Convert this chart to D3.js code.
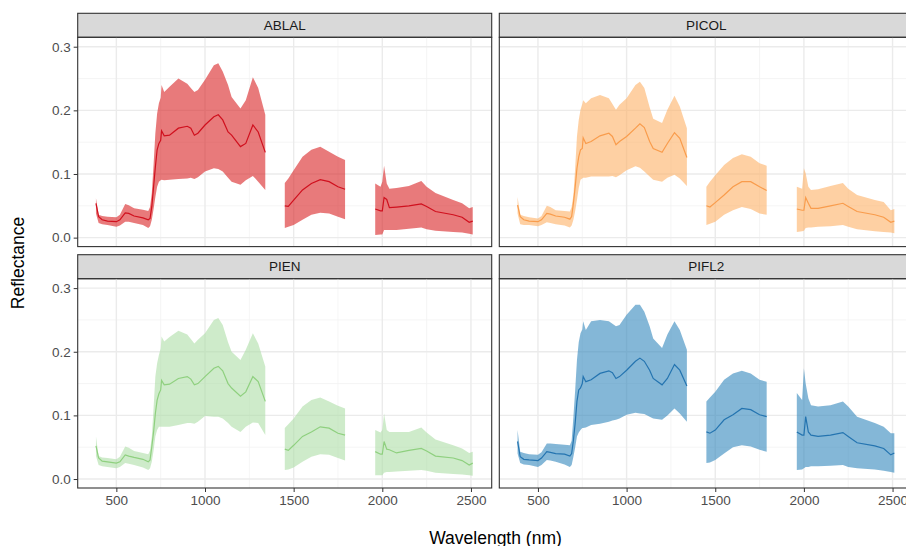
<!DOCTYPE html>
<html>
<head>
<meta charset="utf-8">
<script src="https://cdn.jsdelivr.net/npm/d3@7"></script>
<style>
  body { margin: 0; background: #fff; }
  text { font-family: "Liberation Sans", Arial, sans-serif; }
</style>
</head>
<body>
<div id="chart"></div>
<script>
// ----------------------------------------------------------------------
// data

const wavelengths = [385,400,420,450,500,520,550,570,600,650,680,690,700,710,720,730,740,750,755,770,800,850,900,920,940,960,1000,1050,1075,1100,1130,1150,1200,1230,1270,1300,1340,
  1450,1470,1500,1550,1600,1650,1700,1750,1790,
  1960,1990,2000,2010,2025,2040,2080,2150,2220,2250,2300,2400,2450,2490,2510];

const species = ["ABLAL", "PICOL", "PIEN", "PIFL2"];

const meanABLAL = [0.054,0.033,0.028,0.026,0.025,0.028,0.039,0.038,0.034,0.031,0.028,0.030,0.049,0.080,0.111,0.138,0.148,0.153,0.168,0.160,0.161,0.172,0.175,0.172,0.161,0.164,0.177,0.190,0.193,0.185,0.166,0.161,0.143,0.148,0.177,0.166,0.134,
  0.050,0.049,0.059,0.075,0.085,0.091,0.088,0.080,0.076,
  0.045,0.042,0.042,0.063,0.060,0.047,0.048,0.050,0.053,0.049,0.041,0.036,0.032,0.024,0.026];
const upperABLAL = [0.062,0.036,0.034,0.033,0.032,0.036,0.053,0.051,0.046,0.044,0.042,0.048,0.070,0.115,0.164,0.195,0.211,0.220,0.240,0.229,0.237,0.250,0.242,0.235,0.229,0.232,0.248,0.271,0.274,0.261,0.240,0.221,0.203,0.216,0.252,0.235,0.193,
  0.086,0.093,0.106,0.127,0.138,0.143,0.135,0.127,0.122,
  0.085,0.080,0.088,0.113,0.085,0.077,0.078,0.081,0.089,0.080,0.070,0.059,0.054,0.046,0.048];
const lowerABLAL = [0.038,0.023,0.021,0.020,0.017,0.019,0.025,0.025,0.023,0.020,0.015,0.018,0.028,0.045,0.064,0.080,0.088,0.090,0.091,0.090,0.091,0.092,0.093,0.094,0.092,0.095,0.104,0.109,0.108,0.104,0.094,0.088,0.083,0.090,0.097,0.088,0.075,
  0.015,0.017,0.020,0.028,0.036,0.039,0.038,0.033,0.029,
  0.004,0.005,0.005,0.012,0.012,0.012,0.012,0.014,0.016,0.013,0.011,0.009,0.008,0.006,0.005];

const meanPICOL = [0.051,0.033,0.028,0.026,0.025,0.028,0.038,0.037,0.034,0.032,0.029,0.033,0.054,0.080,0.109,0.127,0.138,0.140,0.157,0.148,0.151,0.160,0.164,0.159,0.146,0.151,0.159,0.172,0.179,0.173,0.151,0.140,0.134,0.148,0.165,0.156,0.126,
  0.050,0.048,0.055,0.067,0.080,0.088,0.088,0.080,0.074,
  0.045,0.043,0.043,0.063,0.054,0.046,0.046,0.050,0.054,0.049,0.041,0.036,0.032,0.024,0.026];
const upperPICOL = [0.064,0.036,0.034,0.032,0.030,0.034,0.050,0.048,0.043,0.042,0.041,0.048,0.067,0.110,0.159,0.185,0.201,0.210,0.216,0.211,0.219,0.224,0.219,0.210,0.201,0.209,0.219,0.240,0.245,0.235,0.205,0.187,0.180,0.201,0.223,0.206,0.172,
  0.080,0.088,0.098,0.114,0.125,0.131,0.127,0.117,0.113,
  0.080,0.077,0.109,0.101,0.080,0.075,0.076,0.081,0.086,0.077,0.067,0.059,0.056,0.043,0.045];
const lowerPICOL = [0.038,0.021,0.020,0.020,0.018,0.020,0.024,0.023,0.021,0.019,0.016,0.019,0.028,0.042,0.059,0.078,0.091,0.093,0.094,0.094,0.096,0.096,0.096,0.097,0.095,0.098,0.106,0.112,0.110,0.104,0.096,0.091,0.088,0.094,0.099,0.093,0.081,
  0.020,0.022,0.025,0.036,0.043,0.048,0.045,0.038,0.036,
  0.009,0.010,0.011,0.015,0.016,0.016,0.017,0.018,0.020,0.017,0.013,0.010,0.009,0.008,0.007];

const meanPIEN = [0.052,0.033,0.028,0.027,0.025,0.027,0.038,0.036,0.034,0.031,0.027,0.030,0.051,0.074,0.103,0.124,0.134,0.140,0.155,0.148,0.149,0.158,0.161,0.157,0.148,0.150,0.161,0.174,0.177,0.170,0.150,0.143,0.130,0.137,0.161,0.153,0.122,
  0.047,0.045,0.053,0.067,0.074,0.082,0.080,0.072,0.069,
  0.043,0.039,0.039,0.059,0.047,0.046,0.041,0.045,0.048,0.044,0.036,0.033,0.029,0.022,0.025];
const upperPIEN = [0.067,0.036,0.034,0.033,0.031,0.035,0.051,0.049,0.044,0.041,0.039,0.045,0.067,0.112,0.161,0.182,0.195,0.205,0.224,0.216,0.223,0.233,0.227,0.220,0.213,0.219,0.229,0.250,0.253,0.242,0.215,0.200,0.187,0.203,0.229,0.213,0.177,
  0.080,0.086,0.095,0.114,0.124,0.128,0.122,0.115,0.111,
  0.077,0.073,0.077,0.103,0.077,0.074,0.074,0.074,0.081,0.073,0.062,0.053,0.048,0.041,0.043];
const lowerPIEN = [0.036,0.022,0.020,0.019,0.017,0.019,0.025,0.024,0.022,0.018,0.014,0.017,0.027,0.045,0.067,0.077,0.082,0.082,0.082,0.082,0.082,0.085,0.088,0.088,0.087,0.090,0.099,0.098,0.098,0.095,0.088,0.082,0.074,0.082,0.089,0.088,0.069,
  0.014,0.015,0.018,0.027,0.035,0.039,0.038,0.033,0.029,
  0.006,0.006,0.006,0.010,0.011,0.011,0.012,0.013,0.014,0.013,0.010,0.008,0.007,0.006,0.005];

const meanPIFL2 = [0.059,0.035,0.031,0.030,0.029,0.033,0.043,0.042,0.040,0.039,0.036,0.040,0.061,0.088,0.122,0.140,0.143,0.150,0.161,0.153,0.156,0.166,0.170,0.167,0.158,0.161,0.171,0.185,0.190,0.185,0.171,0.158,0.148,0.158,0.180,0.171,0.146,
  0.074,0.072,0.077,0.093,0.101,0.111,0.109,0.101,0.098,
  0.074,0.069,0.069,0.098,0.074,0.069,0.067,0.069,0.073,0.067,0.057,0.052,0.048,0.038,0.041];
const upperPIFL2 = [0.077,0.043,0.041,0.039,0.038,0.042,0.056,0.056,0.055,0.054,0.053,0.060,0.098,0.140,0.187,0.215,0.229,0.235,0.248,0.234,0.248,0.250,0.248,0.244,0.240,0.242,0.258,0.274,0.274,0.263,0.240,0.221,0.206,0.227,0.248,0.234,0.203,
  0.122,0.128,0.137,0.156,0.166,0.170,0.166,0.156,0.153,
  0.135,0.124,0.174,0.150,0.127,0.116,0.114,0.116,0.122,0.114,0.098,0.088,0.082,0.072,0.072];
const lowerPIFL2 = [0.040,0.025,0.023,0.022,0.019,0.022,0.030,0.029,0.027,0.023,0.019,0.022,0.035,0.050,0.067,0.073,0.077,0.080,0.080,0.081,0.085,0.087,0.090,0.092,0.093,0.095,0.101,0.104,0.103,0.102,0.098,0.095,0.093,0.100,0.111,0.103,0.090,
  0.025,0.026,0.030,0.040,0.050,0.053,0.051,0.046,0.043,
  0.014,0.015,0.017,0.019,0.019,0.020,0.020,0.021,0.022,0.019,0.017,0.015,0.013,0.011,0.010];

// the water absorption bands that were cut from the spectra
const gapStarts = [1340, 1790];

const xTicks = [500, 1000, 1500, 2000, 2500];
const xMinor = [750, 1250, 1750, 2250];
const yTicks = [0.0, 0.1, 0.2, 0.3];
const yMinor = [0.05, 0.15, 0.25];

const fillColors = ["#D7191C", "#FDAE61", "#ABDDA4", "#2B83BA"];
const lineColors = ["#D0101E", "#F99C4C", "#8FD07F", "#2474B0"];

const seriesBySpecies = {
  ABLAL: [meanABLAL, lowerABLAL, upperABLAL],
  PICOL: [meanPICOL, lowerPICOL, upperPICOL],
  PIEN:  [meanPIEN,  lowerPIEN,  upperPIEN],
  PIFL2: [meanPIFL2, lowerPIFL2, upperPIFL2]
};

// ----------------------------------------------------------------------
// layout

const width = 906, height = 546;
const colX = [77.7, 499.3];
const panelW = 414;
const stripTop = [13.3, 254.7];
const stripH = 24;
const panelH = 209.3;

const svg = d3.select("#chart").append("svg")
    .attr("width", width)
    .attr("height", height);

const x = d3.scaleLinear().domain([282, 2617]).range([0, panelW]);
const y = d3.scaleLinear().domain([-0.0141, 0.3148]).range([panelH, 0]);

// split the spectrum into its measured pieces
function segments(rows) {
  const out = [];
  let cur = [];
  rows.forEach((r, i) => {
    if (i > 0 && gapStarts.includes(rows[i - 1].wl)) { out.push(cur); cur = []; }
    cur.push(r);
  });
  out.push(cur);
  return out;
}

const area = d3.area()
    .x(d => x(d.wl))
    .y0(d => y(d.lo))
    .y1(d => y(d.hi));

const line = d3.line()
    .x(d => x(d.wl))
    .y(d => y(d.mean));

species.forEach((sp, i) => {
  const col = i % 2, row = Math.floor(i / 2);
  const px = colX[col];
  const py = stripTop[row] + stripH;

  const [m, lo, hi] = seriesBySpecies[sp];
  const rows = wavelengths.map((wl, k) => ({ wl: wl, mean: m[k], lo: lo[k], hi: hi[k] }));

  // strip
  svg.append("rect")
      .attr("x", px).attr("y", stripTop[row])
      .attr("width", panelW).attr("height", stripH)
      .attr("fill", "#D9D9D9")
      .attr("stroke", "#333").attr("stroke-width", 1.1);
  svg.append("text")
      .attr("x", px + panelW / 2).attr("y", stripTop[row] + stripH / 2)
      .attr("dy", "0.35em")
      .attr("text-anchor", "middle")
      .attr("font-size", 13.5)
      .attr("fill", "#1A1A1A")
      .text(sp);

  const g = svg.append("g").attr("transform", `translate(${px},${py})`);

  // grid
  g.selectAll(".xminor").data(xMinor).enter().append("line")
      .attr("x1", d => x(d)).attr("x2", d => x(d))
      .attr("y1", 0).attr("y2", panelH)
      .attr("stroke", "#F2F2F2").attr("stroke-width", 0.8);
  g.selectAll(".yminor").data(yMinor).enter().append("line")
      .attr("x1", 0).attr("x2", panelW)
      .attr("y1", d => y(d)).attr("y2", d => y(d))
      .attr("stroke", "#F2F2F2").attr("stroke-width", 0.8);
  g.selectAll(".xmajor").data(xTicks).enter().append("line")
      .attr("x1", d => x(d)).attr("x2", d => x(d))
      .attr("y1", 0).attr("y2", panelH)
      .attr("stroke", "#EBEBEB").attr("stroke-width", 1.4);
  g.selectAll(".ymajor").data(yTicks).enter().append("line")
      .attr("x1", 0).attr("x2", panelW)
      .attr("y1", d => y(d)).attr("y2", d => y(d))
      .attr("stroke", "#EBEBEB").attr("stroke-width", 1.4);

  // ribbons + mean line
  segments(rows).forEach(seg => {
    g.append("path")
        .attr("d", area(seg))
        .attr("fill", fillColors[i])
        .attr("fill-opacity", 0.58);
    g.append("path")
        .attr("d", line(seg))
        .attr("fill", "none")
        .attr("stroke", lineColors[i])
        .attr("stroke-width", 1.2);
  });

  // border
  g.append("rect")
      .attr("width", panelW).attr("height", panelH)
      .attr("fill", "none")
      .attr("stroke", "#333").attr("stroke-width", 1.1);

  // axes
  if (col === 0) {
    const ya = g.append("g")
        .call(d3.axisLeft(y).tickValues(yTicks).tickFormat(d3.format(".1f")).tickSize(4).tickPadding(3));
    ya.select(".domain").remove();
    ya.selectAll("line").attr("stroke", "#333");
    ya.selectAll("text").attr("font-size", 13.5).attr("fill", "#4D4D4D")
        .attr("font-family", '"Liberation Sans", Arial, sans-serif');
  }
  if (row === 1) {
    const xa = g.append("g")
        .attr("transform", `translate(0,${panelH})`)
        .call(d3.axisBottom(x).tickValues(xTicks).tickFormat(d3.format("d")).tickSize(4).tickPadding(3));
    xa.select(".domain").remove();
    xa.selectAll("line").attr("stroke", "#333");
    xa.selectAll("text").attr("font-size", 13.5).attr("fill", "#4D4D4D")
        .attr("font-family", '"Liberation Sans", Arial, sans-serif');
  }
});

// axis titles
svg.append("text")
    .attr("x", 495.5).attr("y", 544)
    .attr("text-anchor", "middle")
    .attr("font-size", 17.5)
    .attr("fill", "#000")
    .text("Wavelength (nm)");

svg.append("text")
    .attr("transform", "translate(24,263) rotate(-90)")
    .attr("text-anchor", "middle")
    .attr("font-size", 17.5)
    .attr("fill", "#000")
    .text("Reflectance");
</script>
</body>
</html>
